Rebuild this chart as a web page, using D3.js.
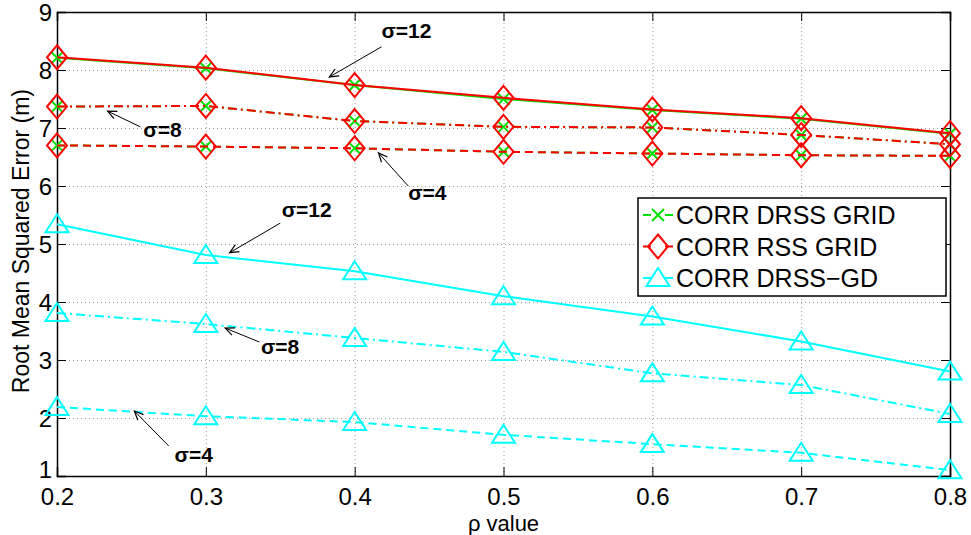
<!DOCTYPE html>
<html lang="en">
<head>
<meta charset="utf-8">
<style>
  body { margin: 0; background: white; }
  svg { font-family: 'Liberation Sans', Arial, sans-serif; }
  .tick text { font-size: 24px; fill: black; }
  .grid line { stroke: #999; stroke-dasharray: 1,3; }
  .grid path { display: none; }
  .note { font-size: 21px; font-weight: bold; }
</style>
</head>
<body>
<div id="my_dataviz"></div>
<script src="https://d3js.org/d3.v7.min.js"></script>
<script>

// data
var rho = [0.2, 0.3, 0.4, 0.5, 0.6, 0.7, 0.8];

var drssGrid4  = [6.70, 6.68, 6.65, 6.59, 6.56, 6.53, 6.52];
var drssGrid8  = [7.37, 7.38, 7.12, 7.02, 7.01, 6.88, 6.72];
var drssGrid12 = [8.21, 8.03, 7.74, 7.50, 7.31, 7.16, 6.90];

var rssGrid4  = [6.70, 6.68, 6.65, 6.59, 6.56, 6.53, 6.52];
var rssGrid8  = [7.37, 7.38, 7.12, 7.02, 7.01, 6.88, 6.72];
var rssGrid12 = [8.22, 8.04, 7.74, 7.52, 7.32, 7.17, 6.91];

var drssGd4  = [2.19, 2.03, 1.93, 1.71, 1.55, 1.40, 1.10];
var drssGd8  = [3.81, 3.62, 3.38, 3.14, 2.77, 2.57, 2.07];
var drssGd12 = [5.34, 4.81, 4.53, 4.10, 3.75, 3.32, 2.80];

var xTicks = [0.2, 0.3, 0.4, 0.5, 0.6, 0.7, 0.8];
var yTicks = [1, 2, 3, 4, 5, 6, 7, 8, 9];

var legendLabels = ["CORR DRSS GRID", "CORR RSS GRID", "CORR DRSS\u2212GD"];

// annotations in data units: text anchor, arrow tail, arrow head
var notes = [
  { t: "\u03c3=12", tx: 0.418, ty: 8.55, x1: 0.418, y1: 8.40, x2: 0.383, y2: 7.88 },
  { t: "\u03c3=8",  tx: 0.258, ty: 6.85, x1: 0.256, y1: 7.02, x2: 0.234, y2: 7.29 },
  { t: "\u03c3=4",  tx: 0.436, ty: 5.76, x1: 0.436, y1: 6.00, x2: 0.416, y2: 6.57 },
  { t: "\u03c3=12", tx: 0.351, ty: 5.47, x1: 0.350, y1: 5.36, x2: 0.316, y2: 4.85 },
  { t: "\u03c3=8",  tx: 0.337, ty: 3.10, x1: 0.336, y1: 3.31, x2: 0.313, y2: 3.55 },
  { t: "\u03c3=4",  tx: 0.279, ty: 1.24, x1: 0.275, y1: 1.52, x2: 0.252, y2: 2.12 }
];

var margin = {top: 12, right: 21, bottom: 59, left: 57};
var width = 971 - margin.left - margin.right;
var height = 535 - margin.top - margin.bottom;

var svg = d3.select("#my_dataviz")
  .append("svg")
    .attr("width", 971)
    .attr("height", 535)
  .append("g")
    .attr("transform", "translate(" + margin.left + "," + margin.top + ")");

var x = d3.scaleLinear().domain([0.2, 0.8]).range([0, width]);
var y = d3.scaleLinear().domain([1, 9]).range([height, 0]);

// dotted grid
svg.append("g")
  .attr("class", "grid")
  .attr("transform", "translate(0," + height + ")")
  .call(d3.axisBottom(x).tickValues(xTicks).tickSize(-height).tickFormat(""));
svg.append("g")
  .attr("class", "grid")
  .call(d3.axisLeft(y).tickValues(yTicks).tickSize(-width).tickFormat(""));

// axes, ticks pointing inward on all four sides
svg.append("g")
  .attr("transform", "translate(0," + height + ")")
  .call(d3.axisBottom(x).tickValues(xTicks).tickSize(-9).tickPadding(12).tickFormat(d3.format(".1f")))
  .call(function(g) { g.selectAll("text").attr("dy", "0.71em"); });
svg.append("g")
  .call(d3.axisLeft(y).tickValues(yTicks).tickSize(-9).tickPadding(5).tickFormat(d3.format("d")))
  .call(function(g) {
    // matlab lifts the lowest label a little
    g.selectAll("text").attr("dy", function(d) { return d === 1 ? "0.05em" : "0.36em"; });
  });
svg.append("g")
  .call(d3.axisTop(x).tickValues(xTicks).tickSize(-9).tickFormat(""));
svg.append("g")
  .attr("transform", "translate(" + width + ",0)")
  .call(d3.axisRight(y).tickValues(yTicks).tickSize(-9).tickFormat(""));
svg.selectAll(".domain").attr("stroke", "black").attr("stroke-width", 1.5);
svg.selectAll(".tick line").attr("stroke", "black");
svg.selectAll(".grid .tick line").attr("stroke", "#999");

// axis titles
svg.append("text")
  .attr("x", x(0.5))
  .attr("y", height + 55)
  .attr("text-anchor", "middle")
  .style("font-size", "22px")
  .text("\u03c1 value");
svg.append("text")
  .attr("transform", "translate(" + (29 - margin.left) + "," + y(5.05) + ")rotate(-90)")
  .attr("text-anchor", "middle")
  .style("font-size", "23px")
  .text("Root Mean Squared Error (m)");

// marker shapes
var shapes = {
  cross: "M-6,-6L6,6M-6,6L6,-6",
  diamond: "M0,-12L10,0L0,12L-10,0Z",
  triangle: "M0,-10L11.5,8L-11.5,8Z"
};

var series = [
  { v: drssGrid4,  c: "#00e000", dash: "8,5",     m: "cross" },
  { v: drssGrid8,  c: "#00e000", dash: "9,4,2,4", m: "cross" },
  { v: drssGrid12, c: "#00e000", dash: null,      m: "cross" },
  { v: rssGrid4,   c: "#ff0000", dash: "8,5",     m: "diamond" },
  { v: rssGrid8,   c: "#ff0000", dash: "9,4,2,4", m: "diamond" },
  { v: rssGrid12,  c: "#ff0000", dash: null,      m: "diamond" },
  { v: drssGd4,    c: "#00ffff", dash: "8,5",     m: "triangle" },
  { v: drssGd8,    c: "#00ffff", dash: "9,4,2,4", m: "triangle" },
  { v: drssGd12,   c: "#00ffff", dash: null,      m: "triangle" }
];

var line = d3.line()
  .x(function(d, i) { return x(rho[i]); })
  .y(function(d) { return y(d); });

series.forEach(function(s) {
  svg.append("path")
    .attr("d", line(s.v))
    .attr("fill", "none")
    .attr("stroke", s.c)
    .attr("stroke-width", 2)
    .attr("stroke-dasharray", s.dash);
  svg.selectAll(null)
    .data(s.v)
    .enter()
    .append("path")
      .attr("d", shapes[s.m])
      .attr("transform", function(d, i) { return "translate(" + x(rho[i]) + "," + y(d) + ")"; })
      .attr("fill", "none")
      .attr("stroke", s.c)
      .attr("stroke-width", 2);
});

// arrow annotations
svg.append("defs").append("marker")
  .attr("id", "arrow")
  .attr("viewBox", "-10 -5 12 10")
  .attr("markerWidth", 12)
  .attr("markerHeight", 10)
  .attr("markerUnits", "userSpaceOnUse")
  .attr("orient", "auto")
  .append("path")
    .attr("d", "M-9,-4L0,0L-9,4")
    .attr("fill", "none")
    .attr("stroke", "black")
    .attr("stroke-width", 1.2);

notes.forEach(function(n) {
  svg.append("line")
    .attr("x1", x(n.x1)).attr("y1", y(n.y1))
    .attr("x2", x(n.x2)).attr("y2", y(n.y2))
    .attr("stroke", "black")
    .attr("stroke-width", 1)
    .attr("marker-end", "url(#arrow)");
  svg.append("text")
    .attr("class", "note")
    .attr("x", x(n.tx))
    .attr("y", y(n.ty))
    .text(n.t);
});

// legend
var lg = svg.append("g").attr("transform", "translate(" + (638 - margin.left) + "," + (198 - margin.top) + ")");
lg.append("rect")
  .attr("width", 308)
  .attr("height", 98)
  .attr("fill", "white")
  .attr("stroke", "black")
  .attr("stroke-width", 1.5);
[series[0], series[3], series[6]].forEach(function(s, i) {
  var cy = 17 + i * 31.5;
  lg.append("path")
    .attr("d", "M5," + cy + "H13M27," + cy + "H35")
    .attr("stroke", s.c)
    .attr("stroke-width", 2);
  lg.append("path")
    .attr("d", shapes[s.m])
    .attr("transform", "translate(20," + cy + ")")
    .attr("fill", "none")
    .attr("stroke", s.c)
    .attr("stroke-width", 2);
  lg.append("text")
    .attr("x", 38)
    .attr("y", cy)
    .attr("dy", "0.36em")
    .style("font-size", "25px")
    .text(legendLabels[i]);
});

</script>
</body>
</html>
